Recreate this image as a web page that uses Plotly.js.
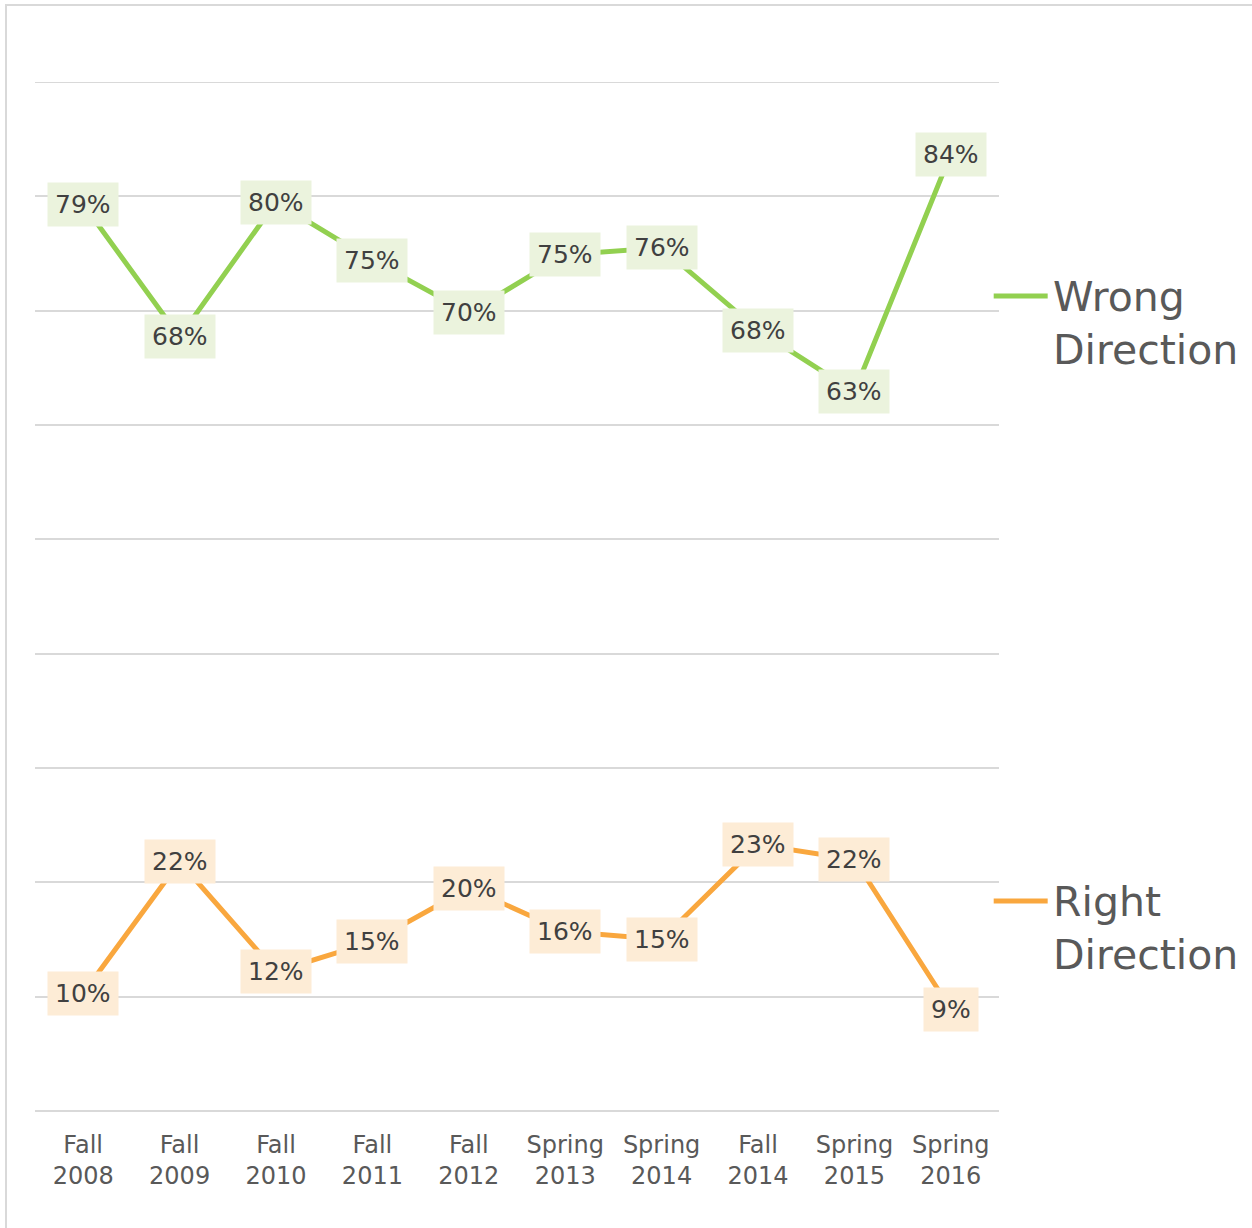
<!DOCTYPE html>
<html>
<head>
<meta charset="utf-8">
<script src="https://cdn.plot.ly/plotly-3.0.1.min.js"></script>
<style>
  html, body { margin: 0; padding: 0; background: #ffffff; overflow: hidden; }
  #frame { position: absolute; left: 5px; top: 4px; width: 1400px; height: 1400px; border: 2px solid #d9d9d9; box-sizing: border-box; }
  #chart { position: absolute; left: 0; top: 0; width: 1252px; height: 1228px; }
</style>
</head>
<body>
<div id="frame"></div>
<div id="chart"></div>
<script>
const categories = ["Fall<br>2008", "Fall<br>2009", "Fall<br>2010", "Fall<br>2011", "Fall<br>2012",
                    "Spring<br>2013", "Spring<br>2014", "Fall<br>2014", "Spring<br>2015", "Spring<br>2016"];
// plotted values (unrounded)
const wrongDirection = [79.3, 67.7, 79.5, 74.4, 69.8, 74.9, 75.5, 68.3, 62.9, 83.7];
const rightDirection = [10.3, 21.8, 12.2, 14.8, 19.5, 15.7, 15.0, 23.3, 22.0, 8.9];
// data labels as printed on the chart
const wrongLabels = ["79%", "68%", "80%", "75%", "70%", "75%", "76%", "68%", "63%", "84%"];
const rightLabels = ["10%", "22%", "12%", "15%", "20%", "16%", "15%", "23%", "22%", "9%"];
const seriesNames = ["Wrong<br>Direction", "Right<br>Direction"];
const yMax = 90;

const GREEN = "#92D050", ORANGE = "#F9A73E";
const GREEN_BG = "#EBF3DD", ORANGE_BG = "#FDECD6";
const FONT = "DejaVu Sans";

const traces = [
  { x: categories, y: wrongDirection, type: "scatter", mode: "lines",
    line: { color: GREEN, width: 5 }, hoverinfo: "skip", showlegend: false },
  { x: categories, y: rightDirection, type: "scatter", mode: "lines",
    line: { color: ORANGE, width: 5 }, hoverinfo: "skip", showlegend: false }
];

function labels(vals, texts, bg) {
  return vals.map((v, i) => ({
    x: categories[i], y: v, xref: "x", yref: "y", text: texts[i], showarrow: false,
    bgcolor: bg, borderpad: 7, font: { family: FONT, size: 25, color: "#404040" },
    xanchor: "center", yanchor: "middle"
  }));
}

const annotations = [].concat(labels(wrongDirection, wrongLabels, GREEN_BG),
                              labels(rightDirection, rightLabels, ORANGE_BG));
annotations.push({ x: 1.054, y: 0.765, xref: "paper", yref: "paper", text: seriesNames[0],
  showarrow: false, xanchor: "left", yanchor: "middle", align: "left",
  font: { family: FONT, size: 41, color: "#595959" } });
annotations.push({ x: 1.054, y: 0.177, xref: "paper", yref: "paper", text: seriesNames[1],
  showarrow: false, xanchor: "left", yanchor: "middle", align: "left",
  font: { family: FONT, size: 41, color: "#595959" } });

const shapes = [
  { type: "line", xref: "paper", yref: "y", x0: 0, x1: 1, y0: yMax, y1: yMax,
    line: { color: "#d9d9d9", width: 2 }, layer: "below" },
  { type: "line", xref: "paper", yref: "paper", x0: 0.9945, x1: 1.0505, y0: 0.792, y1: 0.792,
    line: { color: GREEN, width: 5 } },
  { type: "line", xref: "paper", yref: "paper", x0: 0.9945, x1: 1.0505, y0: 0.204, y1: 0.204,
    line: { color: ORANGE, width: 5 } }
];

const layout = {
  width: 1252, height: 1228,
  margin: { l: 35, r: 253, t: 82, b: 117 },
  paper_bgcolor: "rgba(0,0,0,0)", plot_bgcolor: "rgba(0,0,0,0)",
  showlegend: false,
  xaxis: { type: "category", range: [-0.5, 9.5], showgrid: false, zeroline: false,
    showline: false, ticks: "", ticklabelstandoff: 17,
    tickfont: { family: FONT, size: 24, color: "#595959" }, fixedrange: true },
  yaxis: { range: [0, yMax], dtick: 10, tick0: 0, showgrid: true, gridcolor: "#d9d9d9", gridwidth: 2,
    zeroline: true, zerolinecolor: "#d9d9d9", zerolinewidth: 2,
    showticklabels: false, ticks: "", fixedrange: true },
  annotations: annotations,
  shapes: shapes
};

Plotly.newPlot("chart", traces, layout, { staticPlot: true, displayModeBar: false });
</script>
</body>
</html>
